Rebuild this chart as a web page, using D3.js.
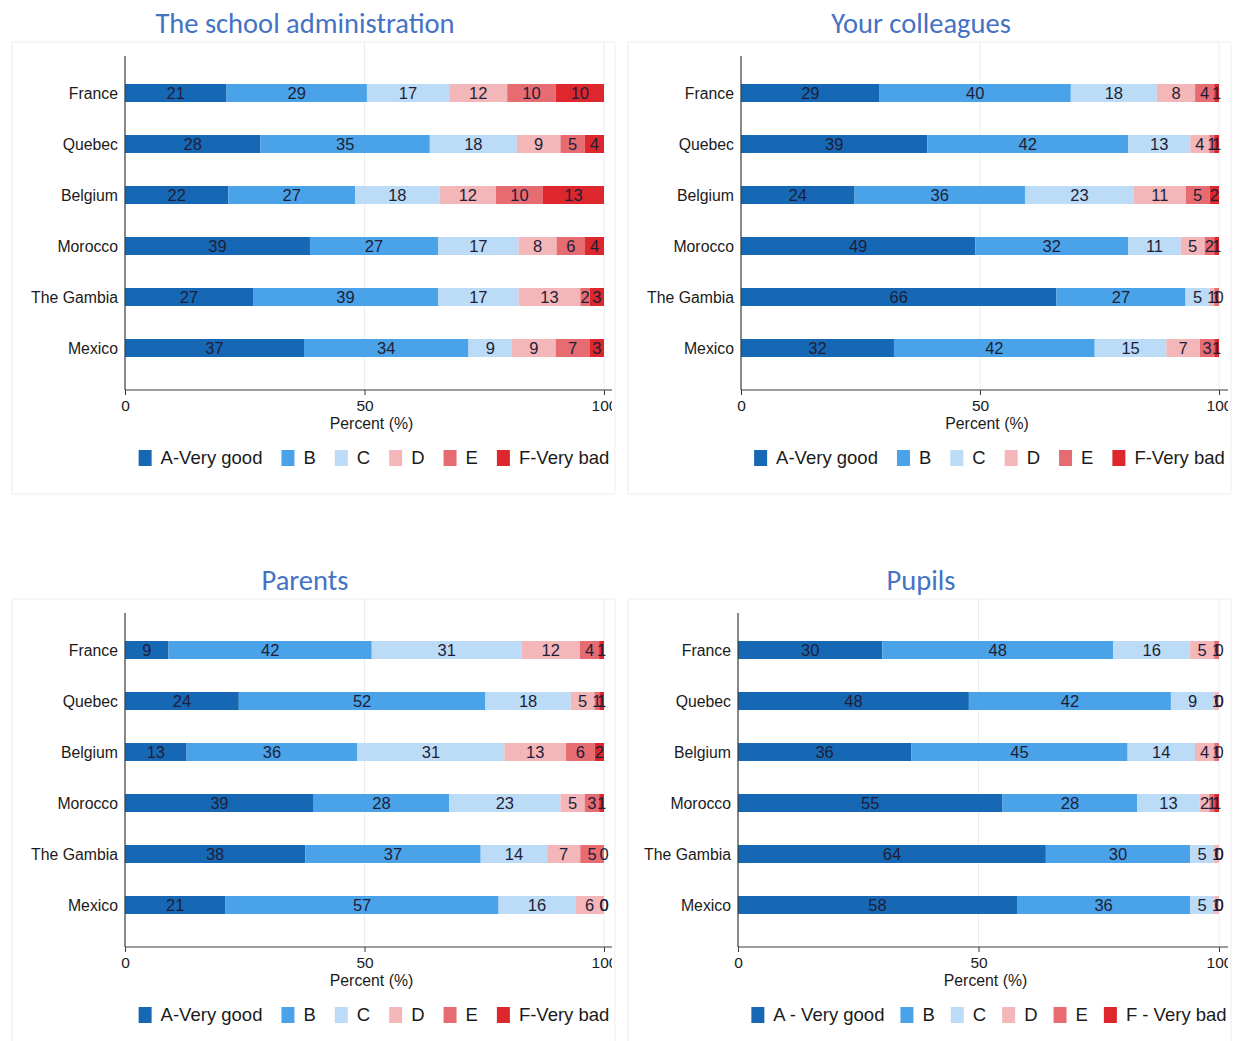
<!DOCTYPE html>
<html><head><meta charset="utf-8">
<script src="https://cdn.jsdelivr.net/npm/d3@7"></script>
<style>body{margin:0;background:#fff}svg{display:block}</style>
</head><body>
<svg id="c" width="1239" height="1041"></svg>
<script>
// ---------- DATA ----------
const countries = ["France", "Quebec", "Belgium", "Morocco", "The Gambia", "Mexico"];
const grades = ["A", "B", "C", "D", "E", "F"];
const legendStd = ["A-Very good", "B", "C", "D", "E", "F-Very bad"];
const legendPupils = ["A - Very good", "B", "C", "D", "E", "F - Very bad"];
const titles = ["The school administration", "Your colleagues", "Parents", "Pupils"];
const xTicks = [0, 50, 100];

// rows: countries; columns: grades A..F (percent)
const adminValues = [
  [21, 29, 17, 12, 10, 10],
  [28, 35, 18, 9, 5, 4],
  [22, 27, 18, 12, 10, 13],
  [39, 27, 17, 8, 6, 4],
  [27, 39, 17, 13, 2, 3],
  [37, 34, 9, 9, 7, 3]
];
const colleaguesValues = [
  [29, 40, 18, 8, 4, 1],
  [39, 42, 13, 4, 1, 1],
  [24, 36, 23, 11, 5, 2],
  [49, 32, 11, 5, 2, 1],
  [66, 27, 5, 1, 1, 0],
  [32, 42, 15, 7, 3, 1]
];
const parentsValues = [
  [9, 42, 31, 12, 4, 1],
  [24, 52, 18, 5, 1, 1],
  [13, 36, 31, 13, 6, 2],
  [39, 28, 23, 5, 3, 1],
  [38, 37, 14, 7, 5, 0],
  [21, 57, 16, 6, 0, 0]
];
const pupilsValues = [
  [30, 48, 16, 5, 1, 0],
  [48, 42, 9, 1, 0, 0],
  [36, 45, 14, 4, 1, 0],
  [55, 28, 13, 2, 1, 1],
  [64, 30, 5, 1, 0, 0],
  [58, 36, 5, 1, 0, 0]
];

// ---------- STYLE / LAYOUT ----------
const colors = ["#1768b4", "#4aa2e8", "#bbdbf6", "#f3b6b9", "#e66c71", "#dd272d"];
const panels = [
  {title: titles[0], values: adminValues, legend: legendStd, ox: 0, oy: 0, x0: 125, x1: 604, gap: 19, lc: 9.5},
  {title: titles[1], values: colleaguesValues, legend: legendStd, ox: 616, oy: 0, x0: 125, x1: 603, gap: 19, lc: 9.5},
  {title: titles[2], values: parentsValues, legend: legendStd, ox: 0, oy: 557, x0: 125, x1: 604, gap: 19, lc: 9.5},
  {title: titles[3], values: pupilsValues, legend: legendPupils, ox: 616, oy: 557, x0: 122, x1: 603, gap: 16, lc: 10.5}
];
const FONT = "'Liberation Sans', Arial, sans-serif";
const svg = d3.select("#c");

panels.forEach((p, pi) => {
  const g = svg.append("g").attr("transform", `translate(${p.ox},${p.oy})`);

  // faint panel frame
  g.append("rect").attr("x", 12).attr("y", 42).attr("width", 603).attr("height", 452)
    .attr("fill", "none").attr("stroke", "#f1f1f1").attr("stroke-width", 1.2);

  // title
  g.append("text").attr("x", 305).attr("y", 33).attr("text-anchor", "middle")
    .attr("font-family", "Carlito, Lato, 'Open Sans', sans-serif").attr("font-size", 28.5)
    .attr("fill", "#4472c4").text(p.title);

  const clipId = "clip" + pi;
  g.append("clipPath").attr("id", clipId).append("rect")
    .attr("x", 0).attr("y", 40).attr("width", 612).attr("height", 460);
  const pg = g.append("g").attr("clip-path", `url(#${clipId})`);

  const x = d3.scaleLinear().domain([0, 100]).range([p.x0, p.x1]);
  const xf = d3.scaleLinear().domain([0, 1]).range([p.x0, p.x1]);
  const y = d3.scaleBand().domain(countries).range([67.5, 373.5])
    .paddingInner(0.647).paddingOuter(0.3235);

  // gridlines
  pg.selectAll("line.grid").data([50, 100]).join("line").attr("class", "grid")
    .attr("x1", d => x(d)).attr("x2", d => x(d)).attr("y1", 42).attr("y2", 390)
    .attr("stroke", "#ececec").attr("stroke-width", 1);

  // stacked bars
  const series = d3.stack().keys(d3.range(grades.length)).offset(d3.stackOffsetExpand)(p.values);
  series.forEach((s, k) => {
    pg.append("g").selectAll("rect").data(s).join("rect")
      .attr("x", d => xf(d[0])).attr("width", d => Math.max(0, xf(d[1]) - xf(d[0])))
      .attr("y", (d, i) => y(countries[i])).attr("height", y.bandwidth())
      .attr("fill", colors[k]);
  });
  series.forEach((s, k) => {
    pg.append("g").selectAll("text").data(s).join("text")
      .attr("x", d => xf((d[0] + d[1]) / 2))
      .attr("y", (d, i) => y(countries[i]) + y.bandwidth() / 2)
      .attr("dy", "0.36em").attr("text-anchor", "middle")
      .attr("font-family", FONT).attr("font-size", 16.5).attr("fill", "#1e1e38")
      .text((d, i) => p.values[i][k]);
  });

  // y axis (country labels)
  const ya = d3.axisLeft(y).tickSize(0).tickPadding(7);
  const yg = pg.append("g").attr("transform", `translate(${p.x0},0)`).call(ya);
  yg.select(".domain").remove();
  yg.selectAll("text").attr("font-family", FONT).attr("font-size", 15.8).attr("fill", "#1a1a1a")
    .attr("dy", "0.38em");
  pg.append("line").attr("x1", p.x0).attr("x2", p.x0).attr("y1", 56).attr("y2", 390)
    .attr("stroke", "#3a3a3a").attr("stroke-width", 1.2);

  // x axis
  pg.append("line").attr("x1", p.x0).attr("x2", 615).attr("y1", 390).attr("y2", 390)
    .attr("stroke", "#3a3a3a").attr("stroke-width", 1.2);
  const xa = d3.axisBottom(x).tickValues(xTicks).tickSize(5).tickPadding(5);
  const xg = pg.append("g").attr("transform", "translate(0,390)").call(xa);
  xg.select(".domain").remove();
  xg.selectAll("line").attr("stroke", "#3a3a3a");
  xg.selectAll("text").attr("font-family", FONT).attr("font-size", 15.5).attr("fill", "#1a1a1a");

  g.append("text").attr("x", (p.x0 + p.x1) / 2 + 7).attr("y", 429).attr("text-anchor", "middle")
    .attr("font-family", FONT).attr("font-size", 15.8).attr("fill", "#1a1a1a").text("Percent (%)");

  // legend
  const lg = g.append("g");
  let cx = 0;
  p.legend.forEach((lab, k) => {
    lg.append("rect").attr("x", cx).attr("y", -8).attr("width", 13).attr("height", 16).attr("fill", colors[k]);
    const t = lg.append("text").attr("x", cx + 22).attr("y", 0).attr("dy", "0.35em")
      .attr("font-family", FONT).attr("font-size", 18.5).attr("fill", "#1a1a1a").text(lab);
    cx += 22 + t.node().getComputedTextLength() + p.gap;
  });
  const total = cx - p.gap;
  const center = (p.x0 + p.x1) / 2 + p.lc;
  lg.attr("transform", `translate(${center - total / 2},458)`);
});
</script>
</body></html>
